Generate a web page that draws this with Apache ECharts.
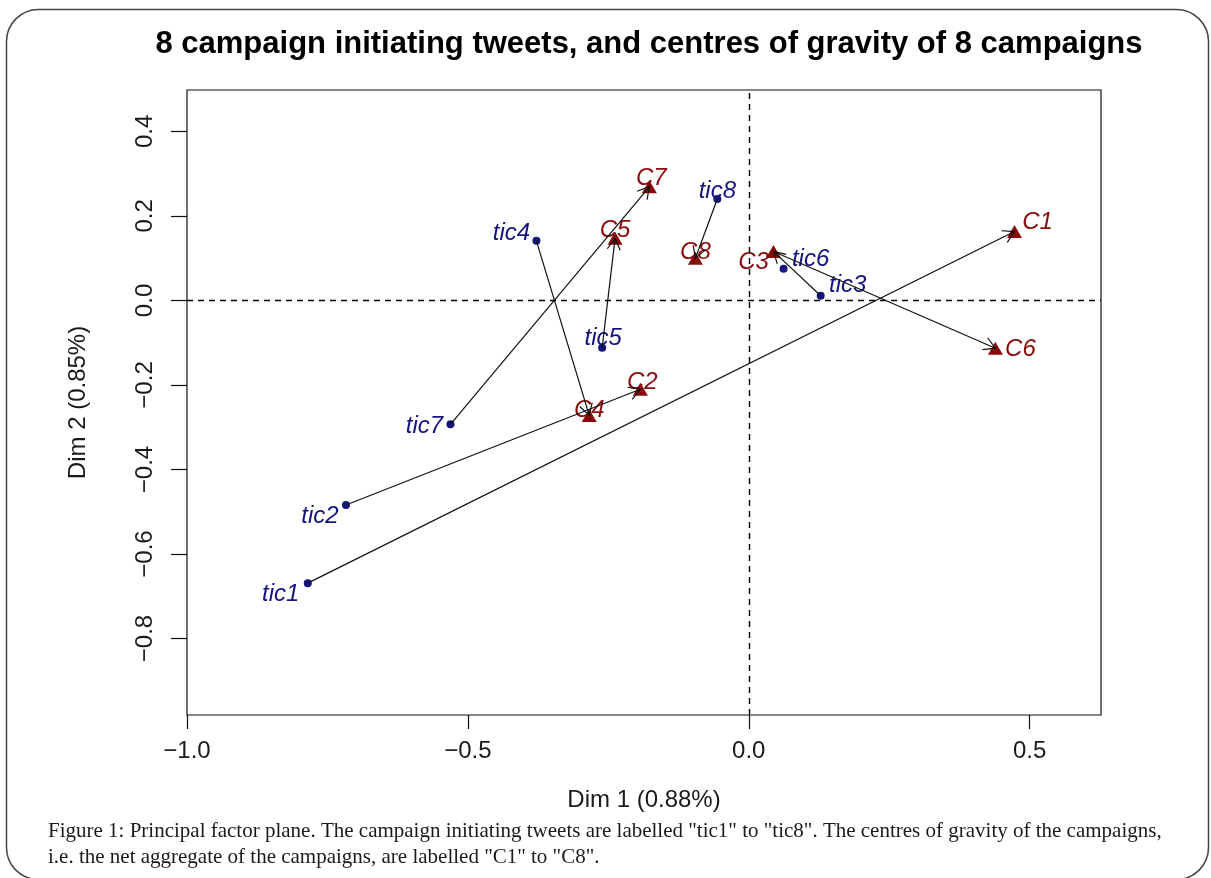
<!DOCTYPE html>
<html>
<head>
<meta charset="utf-8">
<script src="https://cdn.jsdelivr.net/npm/echarts@6/dist/echarts.min.js"></script>
<style>
html,body{margin:0;padding:0;background:#fff;}
#chart{width:1211px;height:878px;}
</style>
</head>
<body>
<div id="chart"></div>
<script>
// ---- data ----
const ticNames = ['tic1','tic2','tic3','tic4','tic5','tic6','tic7','tic8'];
const ticX = [-0.785, -0.717, 0.128, -0.378, -0.261, 0.062, -0.531, -0.056];
const ticY = [-0.669, -0.484, 0.011, 0.141, -0.112, 0.075, -0.293, 0.240];

const cNames = ['C1','C2','C3','C4','C5','C6','C7','C8'];
const cX = [0.473, -0.193, 0.044, -0.284, -0.238, 0.439, -0.177, -0.095];
const cY = [0.163, -0.210, 0.116, -0.272, 0.147, -0.113, 0.269, 0.100];

// arrows: [from, to] by point name
const arrows = [
  ['tic1','C1'], ['tic2','C2'], ['tic3','C3'], ['tic4','C4'],
  ['tic5','C5'], ['C3','C6'], ['tic7','C7'], ['tic8','C8']
];

const xTicks = [-1.0, -0.5, 0.0, 0.5];
const yTicks = [-0.8, -0.6, -0.4, -0.2, 0.0, 0.2, 0.4];

const titleText = '8 campaign initiating tweets, and centres of gravity of 8 campaigns';
const xName = 'Dim 1 (0.88%)';
const yName = 'Dim 2 (0.85%)';
const captionText = 'Figure 1: Principal factor plane. The campaign initiating tweets are labelled "tic1" to "tic8". The centres of gravity of the campaigns,\ni.e. the net aggregate of the campaigns, are labelled "C1" to "C8".';

// ---- label placement (style, in pixels) ----
const ticLabelOffsets = [[-27,11],[-26,11],[27,-10],[-25,-8],[1,-9],[27,-9],[-26,2],[0,-8]];
const cLabelOffsets = [[23,-9],[2,-7],[-20,11],[0,-5],[0,-8],[25,1],[2,-8],[0,-6]];

const BLUE = '#15157f';
const RED = '#8a0a0a';
const FONT = 'Liberation Sans';

const lookup = {};
ticNames.forEach((n,i)=>{ lookup[n] = [ticX[i], ticY[i]]; });
cNames.forEach((n,i)=>{ lookup[n] = [cX[i], cY[i]]; });
const arrowData = arrows.map(([a,b]) => [lookup[a][0], lookup[a][1], lookup[b][0], lookup[b][1]]);

const fmt = v => (v < 0 ? '\u2212' : '') + Math.abs(v).toFixed(1);

const chart = echarts.init(document.getElementById('chart'));
chart.setOption({
  animation: false,
  backgroundColor: '#fff',
  title: {
    text: titleText,
    left: 644, top: 24, textAlign: 'center',
    textStyle: {fontFamily: FONT, fontWeight: 'bold', fontSize: 31, color: '#000'}
  },
  grid: {
    left: 187, right: 110, top: 90, bottom: 163,
    show: true, borderColor: '#111', borderWidth: 1.2, backgroundColor: 'transparent'
  },
  xAxis: {
    type: 'value', min: -1.0, max: 0.627,
    name: xName, nameLocation: 'middle', nameGap: 73,
    nameTextStyle: {fontFamily: FONT, fontSize: 24, color: '#1a1a1a'},
    axisLine: {show: false, onZero: false},
    axisTick: {show: true, length: 14, lineStyle: {color: '#111', width: 1.2}, customValues: xTicks},
    axisLabel: {fontFamily: FONT, fontSize: 24, color: '#1a1a1a', margin: 24, customValues: xTicks, formatter: fmt},
    splitLine: {show: false}
  },
  yAxis: {
    type: 'value', min: -0.981, max: 0.498,
    name: yName, nameLocation: 'middle', nameGap: 97, nameRotate: 90,
    nameTextStyle: {fontFamily: FONT, fontSize: 24, color: '#1a1a1a'},
    axisLine: {show: false, onZero: false},
    axisTick: {show: true, length: 16, lineStyle: {color: '#111', width: 1.2}, customValues: yTicks},
    axisLabel: {fontFamily: FONT, fontSize: 24, color: '#1a1a1a', margin: 30, rotate: 90,
      customValues: yTicks, formatter: fmt},
    splitLine: {show: false}
  },
  series: [
    {
      type: 'scatter', name: 'ref', data: [], silent: true,
      markLine: {
        silent: true, symbol: ['none','none'], label: {show: false},
        lineStyle: {color: '#000', type: [6,5], width: 1.4, opacity: 1},
        data: [{xAxis: 0}, {yAxis: 0}]
      }
    },
    {
      type: 'scatter', name: 'tweets', symbol: 'circle', symbolSize: 8, z: 3, silent: true,
      itemStyle: {color: BLUE, opacity: 1},
      data: ticNames.map((n,i) => ({
        value: [ticX[i], ticY[i]], name: n,
        label: {show: true, formatter: n, position: 'inside', offset: ticLabelOffsets[i],
          fontFamily: FONT, fontStyle: 'italic', fontSize: 24, color: BLUE}
      }))
    },
    {
      type: 'scatter', name: 'centres', symbol: 'triangle', symbolSize: [15, 13], z: 3, silent: true,
      itemStyle: {color: RED, opacity: 1},
      data: cNames.map((n,i) => ({
        value: [cX[i], cY[i]], name: n,
        label: {show: true, formatter: n, position: 'inside', offset: cLabelOffsets[i],
          fontFamily: FONT, fontStyle: 'italic', fontSize: 24, color: RED}
      }))
    },
    {
      type: 'custom', name: 'arrows', z: 4, silent: true,
      data: arrowData,
      encode: {x: [0,2], y: [1,3]},
      renderItem: function (params, api) {
        const p0 = api.coord([api.value(0), api.value(1)]);
        const p1 = api.coord([api.value(2), api.value(3)]);
        const ang = Math.atan2(p1[1]-p0[1], p1[0]-p0[0]);
        const L = 13, a = Math.PI/6;
        const h1 = [p1[0] - L*Math.cos(ang - a), p1[1] - L*Math.sin(ang - a)];
        const h2 = [p1[0] - L*Math.cos(ang + a), p1[1] - L*Math.sin(ang + a)];
        return {
          type: 'group',
          children: [
            {type: 'line', shape: {x1: p0[0], y1: p0[1], x2: p1[0], y2: p1[1]},
              style: {stroke: '#111', lineWidth: 1.2}},
            {type: 'polyline', shape: {points: [h1, p1, h2]},
              style: {stroke: '#111', lineWidth: 1.2, fill: null}}
          ]
        };
      }
    }
  ],
  graphic: [
    {
      type: 'rect', silent: true, z: -1,
      shape: {x: 6.5, y: 9.5, width: 1202, height: 870, r: 32},
      style: {fill: 'none', stroke: '#444', lineWidth: 1.5}
    },
    {
      type: 'text', left: 48, top: 818, silent: true,
      style: {text: captionText, font: '21px "Liberation Serif"', fill: '#1a1a1a', lineHeight: 26}
    }
  ]
});
</script>
</body>
</html>
